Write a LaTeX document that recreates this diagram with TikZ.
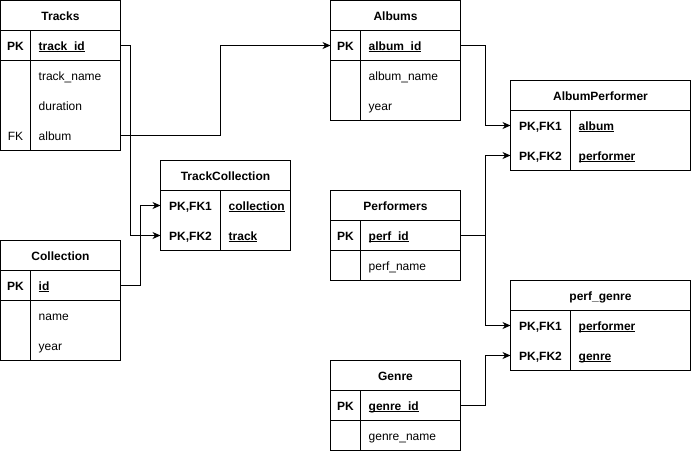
\documentclass[tikz,border=0pt]{standalone}
\usepackage{fontspec}
\setmainfont{Liberation Sans}
\usetikzlibrary{arrows.meta}
% underline set at a fixed depth below the baseline
\newcommand\keyul[1]{\setbox0\hbox{#1}\rlap{\rule[-2pt]{\wd0}{0.9pt}}\box0}
\begin{document}
\begin{tikzpicture}[x=1pt,y=-1pt,
  every node/.style={font=\fontsize{12}{14}\selectfont},
  tbl/.style={draw, line width=1pt, inner sep=0pt, outer sep=0pt, minimum height=30pt},
  cell/.style={inner sep=0pt, outer sep=0pt, minimum height=30pt},
  hdtxt/.style={anchor=base, inner sep=0pt, font=\fontsize{12}{14}\selectfont\bfseries},
  keytxt/.style={anchor=base, inner sep=0pt, font=\fontsize{12}{14}\selectfont\bfseries},
  fktxt/.style={anchor=base, inner sep=0pt},
  fldtxt/.style={anchor=base west, inner sep=0pt},
  pktxt/.style={anchor=base west, inner sep=0pt, font=\fontsize{12}{14}\selectfont\bfseries},
  sepline/.style={line width=1pt},
  link/.style={line width=1pt, -{Stealth[length=8pt,width=7pt,inset=2.5pt]}},
  plainlink/.style={line width=1pt}
]
\useasboundingbox (-0.5,-0.5) rectangle (690.5,450.5);

% ---------- Tracks ----------
\node[tbl, minimum width=120pt] (tracks-hd) at (60,15) {};
\node[hdtxt] at (60,19.5) {Tracks};
\node[tbl, minimum width=120pt] (tracks-pk) at (60,45) {};
\node[tbl, minimum width=120pt, minimum height=90pt] (tracks-body) at (60,105) {};
\node[cell, minimum width=120pt] (tracks-album) at (60,135) {};
\draw[sepline] ([xshift=30pt]tracks-pk.north west) -- ([xshift=30pt]tracks-body.south west);
\node[keytxt] at (15,49.5) {PK};
\node[pktxt] at (38,49.5) {\keyul{track\_id}};
\node[fldtxt] at (38,79.5) {track\_name};
\node[fldtxt] at (38,109.5) {duration};
\node[fktxt] at (15,139.5) {FK};
\node[fldtxt] at (38,139.5) {album};

% ---------- Albums ----------
\node[tbl, minimum width=130pt] (albums-hd) at (395,15) {};
\node[hdtxt] at (395,19.5) {Albums};
\node[tbl, minimum width=130pt] (albums-pk) at (395,45) {};
\node[tbl, minimum width=130pt, minimum height=60pt] (albums-body) at (395,90) {};
\draw[sepline] ([xshift=30pt]albums-pk.north west) -- ([xshift=30pt]albums-body.south west);
\node[keytxt] at (345,49.5) {PK};
\node[pktxt] at (368,49.5) {\keyul{album\_id}};
\node[fldtxt] at (368,79.5) {album\_name};
\node[fldtxt] at (368,109.5) {year};

% ---------- AlbumPerformer ----------
\node[tbl, minimum width=180pt] (ap-hd) at (600,95) {};
\node[hdtxt] at (600,99.5) {AlbumPerformer};
\node[tbl, minimum width=180pt, minimum height=60pt] (ap-body) at (600,140) {};
\node[cell, minimum width=180pt] (ap-album) at (600,125) {};
\node[cell, minimum width=180pt] (ap-perf) at (600,155) {};
\draw[sepline] ([xshift=60pt]ap-body.north west) -- ([xshift=60pt]ap-body.south west);
\node[keytxt] at (540,129.5) {PK,FK1};
\node[pktxt] at (578,129.5) {\keyul{album}};
\node[keytxt] at (540,159.5) {PK,FK2};
\node[pktxt] at (578,159.5) {\keyul{performer}};

% ---------- TrackCollection ----------
\node[tbl, minimum width=130pt] (tc-hd) at (225,175) {};
\node[hdtxt] at (225,179.5) {TrackCollection};
\node[tbl, minimum width=130pt, minimum height=60pt] (tc-body) at (225,220) {};
\node[cell, minimum width=130pt] (tc-coll) at (225,205) {};
\node[cell, minimum width=130pt] (tc-track) at (225,235) {};
\draw[sepline] ([xshift=60pt]tc-body.north west) -- ([xshift=60pt]tc-body.south west);
\node[keytxt] at (190,209.5) {PK,FK1};
\node[pktxt] at (228,209.5) {\keyul{collection}};
\node[keytxt] at (190,239.5) {PK,FK2};
\node[pktxt] at (228,239.5) {\keyul{track}};

% ---------- Collection ----------
\node[tbl, minimum width=120pt] (coll-hd) at (60,255) {};
\node[hdtxt] at (60,259.5) {Collection};
\node[tbl, minimum width=120pt] (coll-pk) at (60,285) {};
\node[tbl, minimum width=120pt, minimum height=60pt] (coll-body) at (60,330) {};
\draw[sepline] ([xshift=30pt]coll-pk.north west) -- ([xshift=30pt]coll-body.south west);
\node[keytxt] at (15,289.5) {PK};
\node[pktxt] at (38,289.5) {\keyul{id}};
\node[fldtxt] at (38,319.5) {name};
\node[fldtxt] at (38,349.5) {year};

% ---------- Performers ----------
\node[tbl, minimum width=130pt] (perf-hd) at (395,205) {};
\node[hdtxt] at (395,209.5) {Performers};
\node[tbl, minimum width=130pt] (perf-pk) at (395,235) {};
\node[tbl, minimum width=130pt] (perf-body) at (395,265) {};
\draw[sepline] ([xshift=30pt]perf-pk.north west) -- ([xshift=30pt]perf-body.south west);
\node[keytxt] at (345,239.5) {PK};
\node[pktxt] at (368,239.5) {\keyul{perf\_id}};
\node[fldtxt] at (368,269.5) {perf\_name};

% ---------- perf_genre ----------
\node[tbl, minimum width=180pt] (pg-hd) at (600,295) {};
\node[hdtxt] at (600,299.5) {perf\_genre};
\node[tbl, minimum width=180pt, minimum height=60pt] (pg-body) at (600,340) {};
\node[cell, minimum width=180pt] (pg-perf) at (600,325) {};
\node[cell, minimum width=180pt] (pg-genre) at (600,355) {};
\draw[sepline] ([xshift=60pt]pg-body.north west) -- ([xshift=60pt]pg-body.south west);
\node[keytxt] at (540,329.5) {PK,FK1};
\node[pktxt] at (578,329.5) {\keyul{performer}};
\node[keytxt] at (540,359.5) {PK,FK2};
\node[pktxt] at (578,359.5) {\keyul{genre}};

% ---------- Genre ----------
\node[tbl, minimum width=130pt] (genre-hd) at (395,375) {};
\node[hdtxt] at (395,379.5) {Genre};
\node[tbl, minimum width=130pt] (genre-pk) at (395,405) {};
\node[tbl, minimum width=130pt] (genre-body) at (395,435) {};
\draw[sepline] ([xshift=30pt]genre-pk.north west) -- ([xshift=30pt]genre-body.south west);
\node[keytxt] at (345,409.5) {PK};
\node[pktxt] at (368,409.5) {\keyul{genre\_id}};
\node[fldtxt] at (368,439.5) {genre\_name};

% ---------- relations ----------
\draw[link] (tracks-pk.east) -- ++(10,0) |- (tc-track.west);
\draw[link] (tracks-album.east) -- ++(100,0) |- (albums-pk.west);
\draw[link] (coll-pk.east) -- ++(20,0) |- (tc-coll.west);
\draw[link] (albums-pk.east) -- ++(25,0) |- (ap-album.west);
\draw[link] (perf-pk.east) -- ++(25,0) |- (ap-perf.west);
\draw[link] (perf-pk.east) -- ++(25,0) |- (pg-perf.west);
\draw[link] (genre-pk.east) -- ++(25,0) |- (pg-genre.west);
\end{tikzpicture}
\end{document}
